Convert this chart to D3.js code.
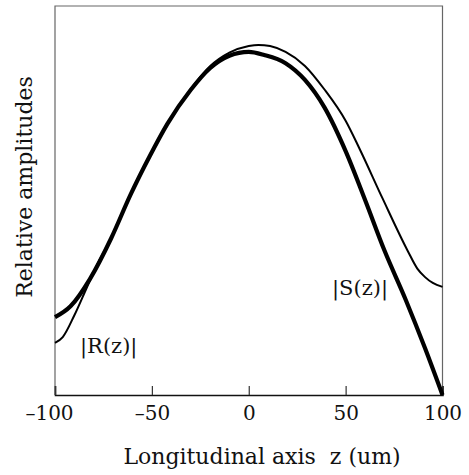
<!DOCTYPE html>
<html>
<head>
<meta charset="utf-8">
<script src="https://cdn.jsdelivr.net/npm/d3@7"></script>
<style>
  body { margin: 0; background: #fff; }
  svg text { font-family: "DejaVu Serif", serif; fill: #111; }
</style>
</head>
<body>
<div id="chart"></div>
<script>
// z positions (um) and relative amplitudes
var zS = [-100, -92, -82, -71, -61, -51, -42, -30, -20, -10, 0, 8, 19, 29, 39, 50, 60, 70, 81, 91, 100]
var ampS = [0.20, 0.228, 0.298, 0.403, 0.515, 0.615, 0.697, 0.784, 0.840, 0.872, 0.882, 0.874, 0.853, 0.81, 0.74, 0.627, 0.502, 0.372, 0.245, 0.12, 0.0]

var zR = [-100, -96, -90, -83.5, -77, -71, -61, -51, -42, -30, -20, -10, 0, 5, 11, 19, 29, 39, 50, 57, 69, 82, 87, 91, 95, 100]
var ampR = [0.134, 0.149, 0.205, 0.277, 0.347, 0.403, 0.515, 0.615, 0.697, 0.786, 0.845, 0.880, 0.897, 0.900, 0.897, 0.882, 0.846, 0.786, 0.705, 0.635, 0.506, 0.371, 0.325, 0.303, 0.288, 0.278]

var xTicks = [-100, -50, 0, 50, 100]
var xTickLabels = ["\u2013100", "\u201350", "0", "50", "100"]

var width = 469, height = 475
var margin = {top: 6, right: 26.5, bottom: 80, left: 55}

var svg = d3.select("#chart").append("svg")
    .attr("width", width)
    .attr("height", height)

var xScale = d3.scaleLinear().domain([-100, 100]).range([margin.left, width - margin.right])
var yScale = d3.scaleLinear().domain([0, 1]).range([height - margin.bottom, margin.top])

var x0 = xScale(-100), x1 = xScale(100), yTop = yScale(1), yBot = yScale(0)

// frame (left, top, right)
svg.append("path")
    .attr("d", "M" + x0 + "," + yBot + "V" + yTop + "H" + x1 + "V" + yBot)
    .attr("fill", "none")
    .attr("stroke", "#666")
    .attr("stroke-width", 1.2)

// bottom axis with inward ticks
var xAxis = svg.append("g")
    .attr("transform", "translate(0," + yBot + ")")
    .call(d3.axisBottom(xScale).tickValues(xTicks).tickSize(-9).tickFormat((d, i) => xTickLabels[i]))
xAxis.select(".domain").attr("stroke", "#111").attr("stroke-width", 1.6)
xAxis.selectAll(".tick line").attr("stroke", "#333").attr("stroke-width", 1.2)
xAxis.selectAll(".tick text")
    .attr("y", 25)
    .attr("dy", null)
    .attr("dx", (d, i) => i == 0 ? -6 : 0)
    .style("font-family", "DejaVu Serif")
    .style("font-size", "20px")
    .attr("fill", "#111")

var line = d3.line()
    .x(d => xScale(d[0]))
    .y(d => yScale(d[1]))
    .curve(d3.curveMonotoneX)

svg.append("path")
    .datum(d3.zip(zR, ampR))
    .attr("d", line)
    .attr("fill", "none")
    .attr("stroke", "#000")
    .attr("stroke-width", 2)

svg.append("path")
    .datum(d3.zip(zS, ampS))
    .attr("d", line)
    .attr("fill", "none")
    .attr("stroke", "#000")
    .attr("stroke-width", 4.2)

// curve labels
svg.append("text")
    .attr("x", 332)
    .attr("y", 295)
    .style("font-size", "21px")
    .text("|S(z)|")

svg.append("text")
    .attr("x", 80)
    .attr("y", 353)
    .style("font-size", "21px")
    .text("|R(z)|")

// axis titles
svg.append("text")
    .attr("x", 262)
    .attr("y", 464)
    .attr("text-anchor", "middle")
    .style("font-size", "22px")
    .style("white-space", "pre")
    .text("Longitudinal axis  z (um)")

svg.append("text")
    .attr("transform", "translate(32,187) rotate(-90)")
    .attr("text-anchor", "middle")
    .style("font-size", "22px")
    .text("Relative amplitudes")
</script>
</body>
</html>
